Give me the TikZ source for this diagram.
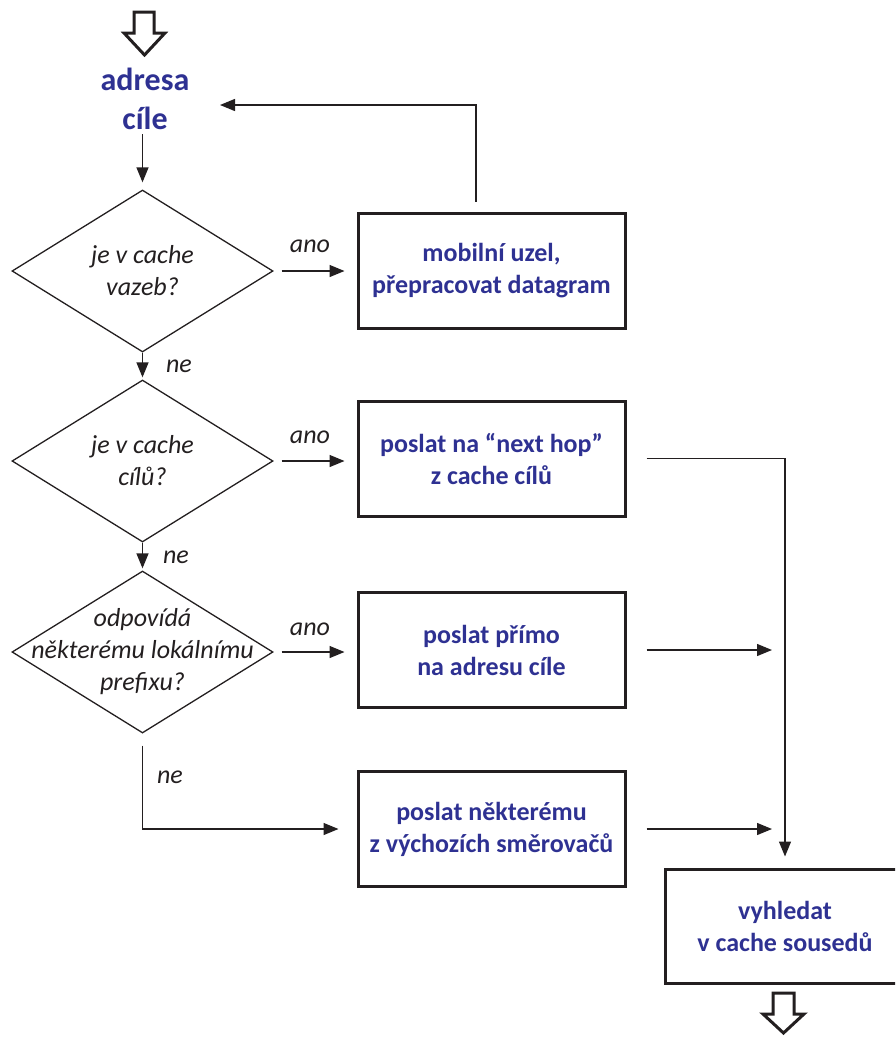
\documentclass[tikz,border=0pt]{standalone}
\usepackage{fontspec}
\setmainfont{Carlito}
\usetikzlibrary{shapes.geometric,arrows.meta,calc}
\definecolor{navy}{RGB}{46,49,146}
\definecolor{ink}{RGB}{35,31,32}
\begin{document}
\begin{tikzpicture}[x=1pt,y=-1pt,
  every node/.style={align=center},
  title/.style={text=navy, font=\fontsize{32}{39}\selectfont\bfseries, inner sep=4pt},
  action/.style={draw=ink, line width=3pt, minimum width=267pt, minimum height=115pt,
    text=navy, font=\fontsize{26}{32}\selectfont\bfseries, inner sep=0pt},
  decision/.style={draw=ink, line width=1.3pt, diamond, minimum width=261pt,
    minimum height=162pt, inner sep=0pt},
  question/.style={text=ink, font=\fontsize{26}{32}\selectfont\itshape, inner sep=0pt},
  answer/.style={text=ink, font=\fontsize{26}{32}\selectfont\itshape, inner sep=0pt, anchor=base},
  flow/.style={draw=ink, line width=1.3pt, -{Triangle[length=15pt,width=12pt]}},
  bigarrow/.style={draw=ink, line width=3pt, fill=white, line join=miter}]

\clip (0,0) rectangle (895,1037);

% entry arrow and start label
\draw[bigarrow] (134,12) -- (154,12) -- (154,33) -- (165,33) -- (144.5,55) -- (124,33) -- (134,33) -- cycle;
\node[title] (dest) at (145,99) {adresa\\cíle};

% decisions
\node[decision] (d1) at (142.5,271) {};
\node[question] (q1) at (d1) {je v cache\\vazeb?};
\node[decision] (d2) at (142.5,461) {};
\node[question] (q2) at (d2) {je v cache\\cílů?};
\node[decision] (d3) at (142.5,652) {};
\node[question] (q3) at (d3) {odpovídá\\některému lokálnímu\\prefixu?};

% actions
\node[action] (b1) at (491.5,270.5) {mobilní uzel,\\přepracovat datagram};
\node[action] (b2) at (491.5,458.5) {poslat na “next hop”\\z cache cílů};
\node[action] (b3) at (491.5,650) {poslat přímo\\na adresu cíle};
\node[action] (b4) at (491.5,829) {poslat některému\\z výchozích směrovačů};
\node[action, minimum width=240pt, minimum height=114pt] (b5) at (785,926) {vyhledat\\v cache sousedů};

% exit arrow
\draw[bigarrow] (773,993) -- (794,993) -- (794,1014) -- (804,1014) -- (783.5,1033) -- (763,1014) -- (773,1014) -- cycle;

% connectors
\draw[flow, shorten >=7pt] (d1.north |- dest.south) -- (d1.north);
\draw[flow, shorten <=8pt, shorten >=12pt] (d1.east) -- (d1.east -| b1.west);
\draw[flow, shorten <=8pt, shorten >=12pt] (d2.east) -- (d2.east -| b2.west);
\draw[flow, shorten <=8pt, shorten >=12pt] (d3.east) -- (d3.east -| b3.west);
\draw[flow, shorten >=2pt] (d1.south) -- (d2.north);
\draw[flow, shorten >=2pt] (d2.south) -- (d3.north);
\draw[flow, shorten <=12pt, shorten >=18pt] (d3.south) |- (b4.west);

\coordinate (back) at (220,105);
\draw[flow, shorten <=10pt] ([xshift=-15.5pt]b1.north) |- (back);

\draw[flow, shorten <=20pt, shorten >=11pt] (b2.east) -| (b5.north);
\draw[flow, shorten <=20pt, shorten >=13pt] (b3.east) -- (b3.east -| b5.north);
\draw[flow, shorten <=20pt, shorten >=13pt] (b4.east) -- (b4.east -| b5.north);

% branch labels
\node[answer] (a1) at (310,252) {ano};
\node[answer] (a2) at (310,443) {ano};
\node[answer] (a3) at (310,635) {ano};
\node[answer] (n1) at (179,372) {ne};
\node[answer] (n2) at (176,563) {ne};
\node[answer] (n3) at (170,783) {ne};
\end{tikzpicture}
\end{document}
